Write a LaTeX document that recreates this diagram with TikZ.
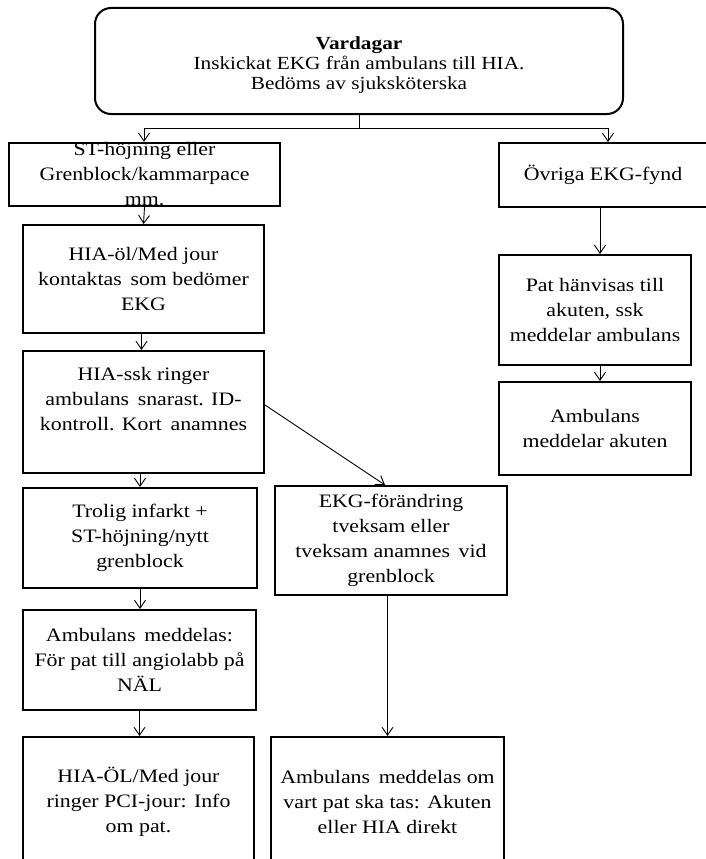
\documentclass[tikz,border=0pt]{standalone}
\usepackage{fontspec}
\setmainfont{Liberation Serif}[FakeStretch=1.15]
\usetikzlibrary{arrows.meta}
\tikzset{
  box/.style={draw, line width=2pt, inner sep=0pt, align=center,
    font=\fontsize{19}{25}\selectfont},
  arr/.style={line width=0.9pt, -{Straight Barb[length=8pt,width=11pt,line width=0.9pt]}},
  ln/.style={line width=0.9pt}
}
\newcommand{\bx}[6]{% name, x1,y1,x2,y2, text
  \node[box, minimum width=#4pt-#2pt, minimum height=#5pt-#3pt] (#1) at ({(#2+#4)/2},{(#3+#5)/2}) {#6};}
\begin{document}
\begin{tikzpicture}[x=1pt,y=-1pt]
\useasboundingbox (0,0) rectangle (706,859);
\clip (0,0) rectangle (706,859);
\node[box, rounded corners=16pt, minimum width=528pt, minimum height=106pt,
  font=\fontsize{18.5}{20}\selectfont] (top) at (359,61)
  {\rule{0pt}{21pt}\textbf{Vardagar}\\Inskickat EKG från ambulans till HIA.\\Bedöms av sjuksköterska};
\bx{st}{9}{143}{280}{206}{ST-höjning eller\\Grenblock/kammarpace\\mm.}
\bx{ov}{499}{143}{720}{207}{\hspace*{-13pt}Övriga EKG-fynd}
\bx{hiaol}{23}{225}{264}{333}{HIA-öl/Med jour\\kontaktas\, som bedömer\\EKG}
\bx{ssk}{23}{351}{264}{473}{HIA-ssk ringer\\ambulans\, snarast. ID-\\kontroll. Kort\, anamnes\\[2pt]\mbox{}}
\bx{pat}{499}{255}{691}{365}{Pat hänvisas till\\akuten, ssk\\meddelar ambulans}
\bx{ambak}{499}{382}{691}{475}{Ambulans\\meddelar akuten}
\bx{trolig}{23}{488}{257}{588}{Trolig infarkt +\\ST-höjning/nytt\\grenblock}
\bx{ekg}{275}{486}{507}{595}{EKG-förändring\\tveksam eller\\tveksam anamnes\, vid\\grenblock}
\bx{ambmed}{23}{610}{256}{710}{Ambulans\, meddelas:\\För pat till angiolabb på\\NÄL}
\bx{hiaOL}{23}{737}{254}{866}{HIA-ÖL/Med jour\\ringer PCI-jour: Info\\om pat.}
\bx{ambom}{271}{737}{504}{866}{Ambulans\, meddelas om\\vart pat ska tas: Akuten\\eller HIA direkt}
% connectors
\coordinate (j) at (359,128);
\coordinate (jl) at (144,128);
\coordinate (jr) at (608,128);
\draw[ln] (top.south) -- (j);
\draw[ln] (jl) -- (jr);
\draw[arr] (jl) -- (jl |- st.north);
\draw[arr] (jr) -- (jr |- ov.north);
\draw[arr] (st.south) -- (hiaol.north);
\draw[arr] ([xshift=-2pt]hiaol.south) -- ([xshift=-2pt]hiaol.south |- ssk.north);
\draw[arr] (trolig.north |- ssk.south) -- (trolig.north);
\draw[arr] (trolig.south) -- (trolig.south |- ambmed.north);
\draw[arr] (ambmed.south) -- (ambmed.south |- hiaOL.north);
\draw[arr] ([yshift=7pt]ssk.east) -- ([xshift=-6pt]ekg.north);
\draw[arr] (ambom.north |- ekg.south) -- (ambom.north);
\coordinate (ovs) at (600,207);
\draw[arr] (ovs) -- (ovs |- pat.north);
\draw[arr] (ovs |- pat.south) -- (ovs |- ambak.north);
\end{tikzpicture}
\end{document}
